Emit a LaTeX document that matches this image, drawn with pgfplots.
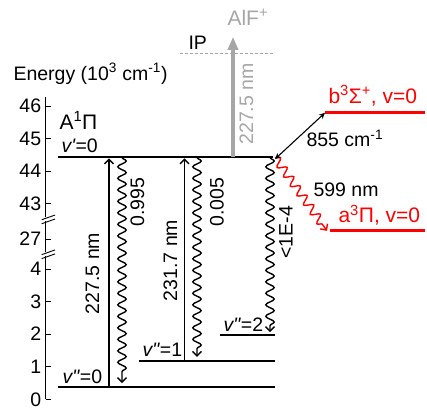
\documentclass[border=0pt]{standalone}
\usepackage{pgfplots}
\pgfplotsset{compat=1.18}
\usepackage{fontspec}
\setmainfont{Liberation Sans}
\usetikzlibrary{arrows.meta,decorations.pathmorphing}
\definecolor{lgray}{RGB}{166,166,166}
\newcommand{\fs}{\fontsize{19.5}{22}\selectfont}
\newcommand{\fl}{\fontsize{21}{24}\selectfont}
\newcommand{\vp}{\textit{v\textquotesingle}}
\newcommand{\vpp}{\textit{v\textquotedbl}}

\begin{document}
\begin{tikzpicture}
\begin{axis}[
  x=1pt, y=32.6pt,
  xmin=45.7, xmax=427, ymin=-0.3, ymax=12.25,
  clip=false,
  axis x line=none,
  axis y line=left,
  y axis line style={draw=none},
  ytick={0,1,2,3,4,4.92,6,7,8,9},
  yticklabels={0,1,2,3,4,27,43,44,45,46},
  tick align=inside,
  major tick length=5pt,
  tick style={black, line width=0.8pt},
  yticklabel style={font=\fs, xshift=-1pt},
  /pgf/number format/assume math mode=true,
  wavy/.style={black, line width=1.4pt, decorate,
    decoration={snake, amplitude=4.2pt, segment length=11.5pt, post length=6pt},
    -{Straight Barb[length=4.5pt, width=9pt]}},
]
% broken energy axis: three segments
\addplot[black, line width=0.8pt] coordinates {(45.7,0) (45.7,4.39)};
\addplot[black, line width=0.8pt] coordinates {(45.7,4.51) (45.7,5.46)};
\addplot[black, line width=0.8pt] coordinates {(45.7,5.58) (45.7,9.27)};
% break marks
\draw[black, line width=0.9pt] (axis cs:41.7,4.317) -- (axis cs:55,4.461);
\draw[black, line width=0.9pt] (axis cs:41.7,4.439) -- (axis cs:55,4.583);
\draw[black, line width=0.9pt] (axis cs:41.7,5.387) -- (axis cs:55,5.531);
\draw[black, line width=0.9pt] (axis cs:41.7,5.509) -- (axis cs:55,5.653);

% vibrational levels
\addplot[black, line width=2pt] coordinates {(58,7.42) (273,7.42)};   % v'=0
\addplot[black, line width=2pt] coordinates {(58,0.39) (275,0.39)};   % v''=0
\addplot[black, line width=2pt] coordinates {(139,1.18) (275,1.18)};  % v''=1
\addplot[black, line width=2pt] coordinates {(220,1.97) (275,1.97)};  % v''=2
\addplot[red, line width=3pt] coordinates {(325,8.81) (425,8.81)};    % b state
\addplot[red, line width=3pt] coordinates {(330,5.17) (425,5.17)};    % a state
\addplot[lgray, line width=1pt, dash pattern=on 3pt off 2pt] coordinates {(180,10.61) (273,10.61)}; % IP

% absorption
\addplot[black, line width=1.3pt, -{Straight Barb[length=4.5pt, width=9pt]}] coordinates {(109,0.39) (109,7.39)};
\addplot[black, line width=1.3pt, -{Straight Barb[length=4.5pt, width=9pt]}] coordinates {(184.5,1.18) (184.5,7.39)};

% emission
\addplot[wavy] coordinates {(122,7.42) (122,0.50)};
\addplot[wavy] coordinates {(197,7.42) (197,1.30)};
\addplot[wavy] coordinates {(270,7.42) (270,2.06)};
\addplot[wavy, red] coordinates {(275,7.42) (327,5.17)};

% coupling to b state
\addplot[black, line width=1.1pt, {Stealth[length=6pt, width=5.5pt]}-{Stealth[length=6pt, width=5.5pt]}] coordinates {(275,7.37) (325,8.79)};

% ionisation
\addplot[lgray, line width=4pt, -{Triangle[length=13pt, width=10pt]}] coordinates {(233,7.42) (233,11.12)};

% labels
\node[anchor=base west, font=\fs] at (axis cs:10,9.79) {Energy (10\textsuperscript{3} cm\textsuperscript{-1})};
\node[anchor=base west, font=\fl] at (axis cs:56,8.28) {A\textsuperscript{1}Π};
\node[anchor=base west, font=\fs] at (axis cs:58,7.56) {\vp=0};
\node[anchor=base west, font=\fs] at (axis cs:59,0.49) {\vpp=0};
\node[anchor=base west, font=\fs] at (axis cs:139,1.31) {\vpp=1};
\node[anchor=base west, font=\fs] at (axis cs:220,2.07) {\vpp=2};
\node[rotate=90, font=\fs] at (axis cs:92.5,3.86) {227.5 nm};
\node[rotate=90, font=\fs] at (axis cs:137.5,6.05) {0.995};
\node[rotate=90, font=\fs] at (axis cs:170.5,4.26) {231.7 nm};
\node[rotate=90, font=\fs] at (axis cs:217,6.05) {0.005};
\node[rotate=90, font=\fs] at (axis cs:286,5.12) {<1E-4};
\node[anchor=base west, font=\fs] at (axis cs:303,7.75) {855 cm\textsuperscript{-1}};
\node[anchor=base west, font=\fs] at (axis cs:310,6.21) {599 nm};
\node[anchor=base west, font=\fl, text=red] at (axis cs:325,9.08) {b\textsuperscript{3}Σ\textsuperscript{+}, v=0};
\node[anchor=base west, font=\fl, text=red] at (axis cs:335,5.42) {a\textsuperscript{3}Π, v=0};
\node[anchor=base west, font=\fs] at (axis cs:185,10.72) {IP};
\node[anchor=base west, font=\fl, text=lgray] at (axis cs:224,11.48) {AlF\textsuperscript{+}};
\node[rotate=90, font=\fs, text=lgray] at (axis cs:246.5,9.06) {227.5 nm};

\coordinate (BL) at (axis cs:0,-0.3);
\coordinate (TR) at (axis cs:427,12.25);
\end{axis}
\pgfresetboundingbox
\useasboundingbox (BL) rectangle (TR);
\end{tikzpicture}
\end{document}
